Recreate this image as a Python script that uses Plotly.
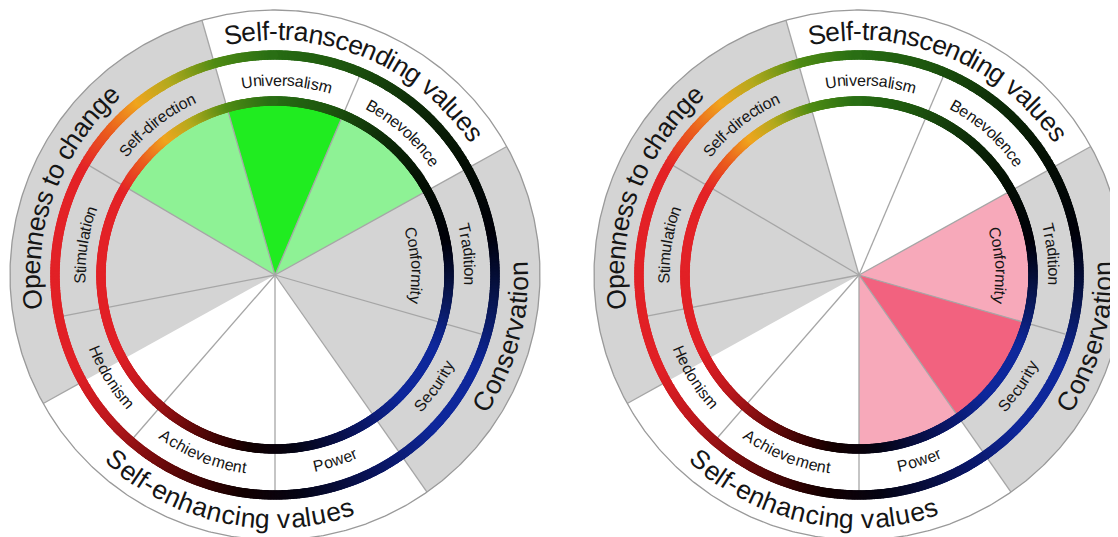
import numpy as np
import plotly.graph_objects as go

# ---------------- data ----------------
VALUE_NAMES = ["Universalism", "Benevolence", "Conformity", "Security", "Power",
               "Achievement", "Hedonism", "Stimulation", "Self-direction"]
VALUE_START = [-16, 23, 61, 106, 145, 180, 221, 259, 300.5]   # degrees clockwise from top
VALUE_END = [23, 61, 106, 145, 180, 221, 259, 300.5, 344]
LEFT_LEVEL = [2, 1, 0, 0, 0, 0, 0, 0, 1]     # highlight level of each pie wedge (left wheel)
RIGHT_LEVEL = [0, 0, 1, 2, 1, 0, 0, 0, 0]    # highlight level of each pie wedge (right wheel)

GROUP_NAMES = ["Self-transcending values", "Conservation", "Self-enhancing values", "Openness to change"]
GROUP_START = [-16, 61, 145, 241]
GROUP_END = [61, 145, 241, 344]
GROUP_SHADED = [0, 1, 0, 1]
GROUP_LABEL_ANGLES = [22, 105, 192, 290.5]

BAND_LABELS = ["Universalism", "Benevolence", "Tradition", "Security", "Power",
               "Achievement", "Hedonism", "Stimulation", "Self-direction"]
BAND_ANGLES = [3.5, 42, 84, 125, 162, 202, 238, 279, 322]
INNER_LABELS = ["Conformity"]
INNER_ANGLES = [86]

# gradient of the rings (angle, r, g, b)
STOP_ANGLES = [0, 20, 40, 60, 80, 100, 115, 135, 155, 175, 190, 210, 230, 245, 300, 312, 322, 332, 345, 360]
STOP_R = [40, 30, 15, 5, 0, 10, 15, 15, 10, 5, 20, 100, 190, 225, 228, 235, 240, 180, 80, 40]
STOP_G = [110, 85, 45, 15, 0, 25, 40, 40, 20, 5, 0, 10, 25, 32, 36, 95, 165, 170, 140, 110]
STOP_B = [20, 15, 10, 5, 10, 90, 155, 155, 90, 20, 0, 10, 30, 38, 40, 30, 30, 30, 20, 20]

# ---------------- style / geometry ----------------
R_PIE = 174
R_RING_IN = 174
R_RING_OUT = 220
R_OUTER = 265
R_BAND_TXT = 195
R_INNER_TXT = 142
R_GROUP_TXT = 244
RING_W = 9.5
GRAY = "#d4d4d4"
LINE_C = "#a6a6a6"
TXT_C = "#151515"
FONT = "Liberation Sans, Arial, sans-serif"
GROUP_SIZE = 26.5
VALUE_SIZE = 16
LEVEL_COLORS = [
    {1: "#8ef295", 2: "#20ec20"},
    {1: "#f7a9ba", 2: "#f2627f"},
]
LEVELS = [LEFT_LEVEL, RIGHT_LEVEL]

# Arial advance widths (1/1000 em)
W = {' ': 278, '-': 333, 'A': 667, 'B': 667, 'C': 722, 'H': 722, 'O': 778, 'P': 667, 'S': 667,
     'T': 611, 'U': 722, 'a': 556, 'b': 556, 'c': 500, 'd': 556, 'e': 556, 'f': 278, 'g': 556,
     'h': 556, 'i': 222, 'l': 222, 'm': 833, 'n': 556, 'o': 556, 'p': 556, 'r': 333, 's': 500,
     't': 278, 'u': 556, 'v': 500, 'w': 722, 'y': 500}


def pol(r, th):
    t = np.radians(th)
    return r * np.sin(t), r * np.cos(t)


def sector(a1, a2, r0, r1):
    t = np.linspace(a1, a2, max(8, int(abs(a2 - a1) * 2)))
    xo, yo = pol(r1, t)
    if r0 <= 0:
        xs = np.concatenate([[0], xo, [0]])
        ys = np.concatenate([[0], yo, [0]])
    else:
        xi, yi = pol(r0, t[::-1])
        xs = np.concatenate([xo, xi, xo[:1]])
        ys = np.concatenate([yo, yi, yo[:1]])
    return xs, ys


def curved(text, theta_c, r, size, xref, yref):
    a = theta_c % 360
    cw = not (100 < a < 260)
    widths = [W.get(ch, 556) * size / 1000.0 for ch in text]
    total = sum(widths)
    span = np.degrees(total / r)
    out = []
    cum = 0.0
    for ch, w in zip(text, widths):
        off = np.degrees((cum + w / 2) / r)
        cum += w
        if ch == ' ':
            continue
        if cw:
            th = theta_c - span / 2 + off
            rot = th
        else:
            th = theta_c + span / 2 - off
            rot = th - 180
        x, y = pol(r, th)
        rot = ((rot + 180) % 360) - 180
        out.append(dict(text=ch, x=float(x), y=float(y), xref=xref, yref=yref,
                        textangle=float(rot), showarrow=False, xanchor="center", yanchor="middle",
                        font=dict(family=FONT, size=size, color=TXT_C)))
    return out


fig = go.Figure()
annotations = []
axes = [("x", "y"), ("x2", "y2")]

ring_th = np.arange(0, 360, 0.4)
ring_cols = ["rgb(%d,%d,%d)" % (int(r), int(g), int(b)) for r, g, b in zip(
    np.interp(ring_th, STOP_ANGLES, STOP_R),
    np.interp(ring_th, STOP_ANGLES, STOP_G),
    np.interp(ring_th, STOP_ANGLES, STOP_B))]

for k, (xa, ya) in enumerate(axes):
    common = dict(xaxis=xa, yaxis=ya, hoverinfo="skip", showlegend=False)
    # white disk
    xs, ys = sector(0, 360, 0, R_OUTER)
    fig.add_trace(go.Scatter(x=xs, y=ys, fill="toself", fillcolor="white", mode="none", **common))
    # shaded group sectors
    for g0, g1, sh in zip(GROUP_START, GROUP_END, GROUP_SHADED):
        if sh:
            xs, ys = sector(g0, g1, 0, R_OUTER)
            fig.add_trace(go.Scatter(x=xs, y=ys, fill="toself", fillcolor=GRAY, mode="none", **common))
    # highlighted pie wedges
    for v0, v1, lv in zip(VALUE_START, VALUE_END, LEVELS[k]):
        if lv:
            xs, ys = sector(v0, v1, 0, R_PIE)
            fig.add_trace(go.Scatter(x=xs, y=ys, fill="toself", fillcolor=LEVEL_COLORS[k][lv],
                                     mode="none", **common))
    # boundary lines
    lx, ly = [], []
    for a in VALUE_START:
        x1, y1 = pol(R_RING_OUT, a)
        lx += [0, float(x1), None]
        ly += [0, float(y1), None]
    for a in GROUP_START:
        x0, y0 = pol(R_RING_OUT, a)
        x1, y1 = pol(R_OUTER, a)
        lx += [float(x0), float(x1), None]
        ly += [float(y0), float(y1), None]
    fig.add_trace(go.Scatter(x=lx, y=ly, mode="lines", line=dict(color=LINE_C, width=1.3), **common))
    # gradient rings
    for rr in (R_RING_IN, R_RING_OUT):
        rx, ry = pol(rr, ring_th)
        fig.add_trace(go.Scatter(x=rx, y=ry, mode="markers",
                                 marker=dict(size=RING_W, color=ring_cols, line=dict(width=0)),
                                 **common))
    # outer outline
    cx, cy = pol(R_OUTER, np.linspace(0, 360, 721))
    fig.add_trace(go.Scatter(x=cx, y=cy, mode="lines", line=dict(color="#9a9a9a", width=1.3), **common))

    # texts
    for name, ang in zip(GROUP_NAMES, GROUP_LABEL_ANGLES):
        annotations += curved(name, ang, R_GROUP_TXT, GROUP_SIZE, xa, ya)
    for name, ang in zip(BAND_LABELS, BAND_ANGLES):
        annotations += curved(name, ang, R_BAND_TXT, VALUE_SIZE, xa, ya)
    for name, ang in zip(INNER_LABELS, INNER_ANGLES):
        annotations += curved(name, ang, R_INNER_TXT, VALUE_SIZE, xa, ya)

# the page body adds an 8px margin, so the figure is 8px smaller than the window
WIDTH, HEIGHT = 1110, 529
split = 552 / WIDTH
ax_common = dict(visible=False, fixedrange=True, showgrid=False, zeroline=False)
fig.update_layout(
    width=WIDTH, height=HEIGHT,
    margin=dict(l=0, r=0, t=0, b=0),
    paper_bgcolor="white", plot_bgcolor="white",
    xaxis=dict(domain=[0, split], range=[-267, 285], **ax_common),
    yaxis=dict(domain=[0, 1], range=[-262, 267], anchor="x", **ax_common),
    xaxis2=dict(domain=[split, 1], range=[-299, 259], anchor="y2", **ax_common),
    yaxis2=dict(domain=[0, 1], range=[-262, 267], anchor="x2", **ax_common),
    annotations=annotations,
)
fig.write_html("out.html")
